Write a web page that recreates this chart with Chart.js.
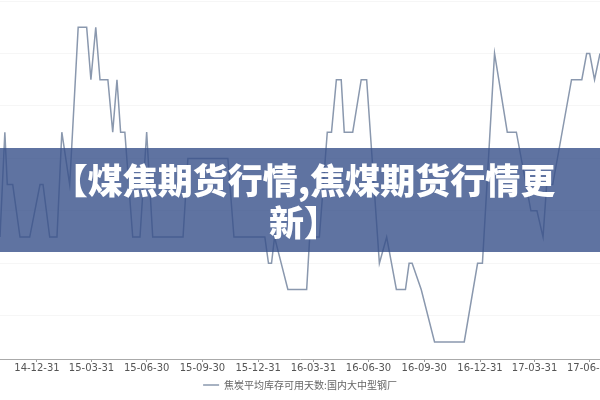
<!DOCTYPE html>
<html>
<head>
<meta charset="utf-8">
<script src="https://cdn.jsdelivr.net/npm/chart.js@4.4.0/dist/chart.umd.min.js"></script>
<style>
    html, body { margin: 0; padding: 0; background: #fff; overflow: hidden; }
    #wrap { position: relative; width: 600px; height: 400px; }
    #banner {
        position: absolute; left: 0; top: 148px; width: 600px; height: 104px;
        background: rgba(55, 80, 138, 0.8);
        color: #fff; text-align: center;
        font-family: "Noto Sans CJK SC", sans-serif; font-weight: 900;
        font-size: 35px; line-height: 42px;
        padding-top: 10px; padding-left: 8px; box-sizing: border-box;
    }
</style>
</head>
<body>
<div id="wrap">
    <canvas id="stockChart" width="600" height="400"></canvas>
    <div id="banner">【煤焦期货行情,焦煤期货行情更<br>新】</div>
</div>
<script>
// Weekly readings, coke stock days at large and mid-size mills
const dates = [
    '2014-10-31', '2014-11-08', '2014-11-12', '2014-11-21', '2014-12-03', '2014-12-19',
    '2015-01-05', '2015-01-10', '2015-01-21', '2015-02-02', '2015-02-10', '2015-02-23',
    '2015-03-09', '2015-03-23', '2015-03-30', '2015-04-07', '2015-04-14', '2015-04-27',
    '2015-05-05', '2015-05-12', '2015-05-18', '2015-05-25', '2015-06-07', '2015-06-19',
    '2015-06-30', '2015-07-10', '2015-08-29', '2015-09-06', '2015-11-11', '2015-11-21',
    '2016-01-11', '2016-01-17', '2016-01-22', '2016-01-27', '2016-02-18', '2016-03-20',
    '2016-03-25', '2016-04-10', '2016-04-23', '2016-04-30', '2016-05-08', '2016-05-16',
    '2016-05-21', '2016-06-04', '2016-06-18', '2016-06-27', '2016-07-18', '2016-07-30',
    '2016-08-15', '2016-08-30', '2016-09-05', '2016-09-10', '2016-09-25', '2016-10-17',
    '2016-12-05', '2016-12-27', '2017-01-04', '2017-01-24', '2017-02-14', '2017-03-01',
    '2017-03-25', '2017-04-04', '2017-04-14', '2017-04-20', '2017-04-30', '2017-05-31',
    '2017-06-17', '2017-06-25', '2017-06-30', '2017-07-08', '2017-07-17'
];
const stockDays = [
    14, 18, 16, 16, 14, 14,
    16, 16, 14, 14, 18, 16,
    22, 22, 20, 22, 20, 20,
    18, 20, 18, 18, 14, 14,
    18, 14, 14, 17, 17, 14,
    14, 13, 13, 14, 12, 12,
    14, 14, 18, 18, 20, 20,
    18, 18, 20, 20, 13, 14,
    12, 12, 13, 13, 12, 10,
    10, 13, 13, 21, 18, 18,
    15, 15, 14, 16, 16, 20,
    20, 21, 21, 20, 21
];
const tickDates = [
    '2014-12-31', '2015-03-31', '2015-06-30', '2015-09-30', '2015-12-31', '2016-03-31',
    '2016-06-30', '2016-09-30', '2016-12-31', '2017-03-31', '2017-06-30'
];
const gridValues = [11, 13, 15, 17, 19, 21, 23];
const seriesName = '焦炭平均库存可用天数:国内大中型钢厂';

document.addEventListener("DOMContentLoaded", function() {
    const pad = n => String(n).padStart(2, '0');
    const fmt = v => {
        const d = new Date(v);
        return pad(d.getUTCFullYear() % 100) + '-' + pad(d.getUTCMonth() + 1) + '-' + pad(d.getUTCDate());
    };

    new Chart(document.getElementById('stockChart').getContext('2d'), {
        type: 'line',
        data: {
            datasets: [{
                label: seriesName,
                data: dates.map((d, i) => ({ x: Date.parse(d), y: stockDays[i] })),
                borderColor: '#8a98ae',
                borderWidth: 1.5,
                pointRadius: 0,
                tension: 0,
                fill: false
            }]
        },
        options: {
            responsive: false,
            animation: false,
            layout: { padding: 0 },
            plugins: {
                title: { display: false },
                tooltip: { enabled: false },
                legend: {
                    position: 'bottom',
                    labels: {
                        usePointStyle: true,
                        pointStyle: 'line',
                        pointStyleWidth: 16,
                        color: '#666',
                        padding: 6,
                        font: { family: '"Noto Sans CJK SC", sans-serif', size: 10 }
                    }
                }
            },
            scales: {
                x: {
                    type: 'linear',
                    min: Date.parse('2014-10-31'),
                    max: Date.parse('2017-07-17'),
                    afterBuildTicks: scale => {
                        scale.ticks = tickDates.map(d => ({ value: Date.parse(d) }));
                    },
                    afterFit: scale => {
                        scale.paddingLeft = 0;
                        scale.paddingRight = 0;
                    },
                    grid: { drawOnChartArea: false, drawTicks: true, tickLength: 3, tickColor: '#999' },
                    border: { color: '#aaa' },
                    ticks: {
                        autoSkip: false,
                        maxRotation: 0,
                        padding: 0,
                        color: '#555',
                        font: { family: '"DejaVu Sans", sans-serif', size: 10 },
                        callback: v => fmt(v)
                    }
                },
                y: {
                    min: 9.35,
                    max: 23.04,
                    display: true,
                    afterBuildTicks: scale => {
                        scale.ticks = gridValues.map(v => ({ value: v }));
                    },
                    grid: { color: '#f6f6f6', drawTicks: false },
                    border: { display: false },
                    ticks: { display: false }
                }
            }
        }
    });
});
</script>
</body>
</html>
